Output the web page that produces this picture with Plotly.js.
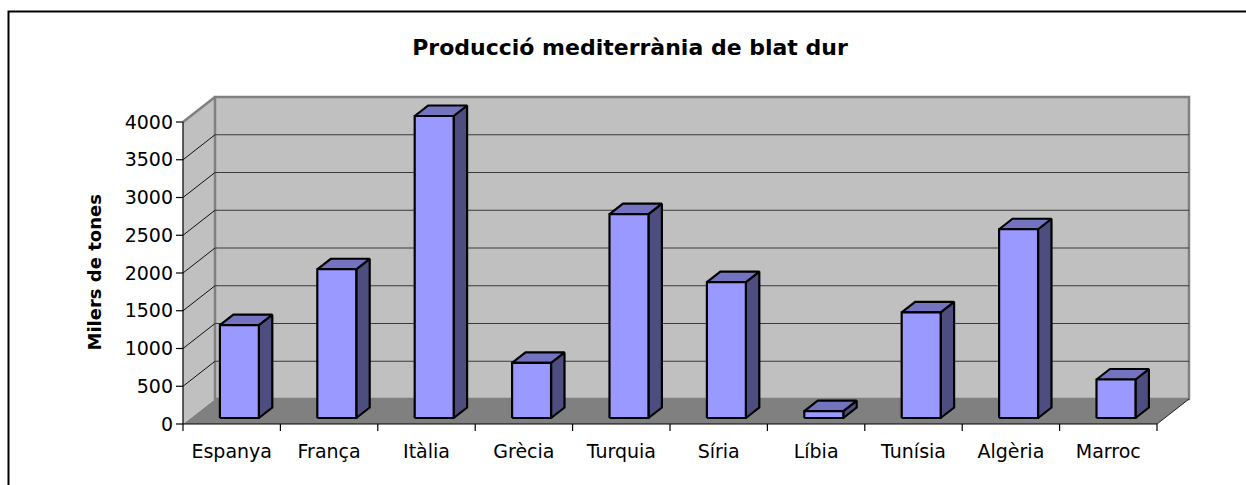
<!DOCTYPE html>
<html>
<head>
<meta charset="utf-8">
<script src="https://cdn.plot.ly/plotly-3.0.1.min.js"></script>
<style>
  html, body { margin: 0; padding: 0; background: #ffffff; }
  #chart { width: 1246px; height: 485px; }
</style>
</head>
<body>
<div id="chart"></div>
<script>
// ---- data ----
const categories = ["Espanya", "França", "Itàlia", "Grècia", "Turquia", "Síria", "Líbia", "Tunísia", "Algèria", "Marroc"];
const values = [1230, 1970, 4000, 730, 2700, 1800, 90, 1400, 2500, 510];
const yTickValues = [0, 500, 1000, 1500, 2000, 2500, 3000, 3500, 4000];
const yTickLabels = ["0", "500", "1000", "1500", "2000", "2500", "3000", "3500", "4000"];
const chartTitle = "Producció mediterrània de blat dur";
const yTitle = "Milers de tones";

// ---- geometry (pixels) ----
const W = 1246, H = 485;
const PX_CAT = 97.4;      // pixels per category
const PX_UNIT = 0.0755;   // pixels per value unit
const FRONT_X = 183, FRONT_Y = 424;
const PLOT = { l: 175, r: 1194, t: 94, b: 434 };
const DEPTH_PX = [32, 25];
const DX = DEPTH_PX[0] / PX_CAT, DY = DEPTH_PX[1] / PX_UNIT;
const BAR_HALF = 0.2, D0 = 0.24, D1 = 0.66;
const nCat = categories.length;
const yMax = yTickValues[yTickValues.length - 1];

const xRange = [-0.5 - (FRONT_X - PLOT.l) / PX_CAT, -0.5 + (PLOT.r - FRONT_X) / PX_CAT];
const yRange = [-(PLOT.b - FRONT_Y) / PX_UNIT, (FRONT_Y - PLOT.t) / PX_UNIT];

const xL = -0.5, xR = nCat - 0.5;

// ---- helpers ----
function polyTrace(list, fill, lineColor, lineWidth) {
  const xs = [], ys = [];
  list.forEach(pts => {
    pts.forEach(p => { xs.push(p[0]); ys.push(p[1]); });
    xs.push(pts[0][0]); ys.push(pts[0][1]);
    xs.push(null); ys.push(null);
  });
  return { type: 'scatter', mode: 'lines', x: xs, y: ys, fill: 'toself', fillcolor: fill,
           line: { color: lineColor, width: lineWidth }, hoverinfo: 'skip', showlegend: false };
}
function segTrace(segs, color, width) {
  const xs = [], ys = [];
  segs.forEach(s => { xs.push(s[0][0], s[1][0], null); ys.push(s[0][1], s[1][1], null); });
  return { type: 'scatter', mode: 'lines', x: xs, y: ys, line: { color: color, width: width },
           hoverinfo: 'skip', showlegend: false };
}

// ---- walls / grid ----
const gridVals = yTickValues.filter(v => v > 0 && v < yMax);
const backGrid = segTrace(gridVals.map(v => [[xL + DX, v + DY], [xR + DX, v + DY]]), '#3a3a3a', 1.2);
const sideGrid = segTrace(gridVals.map(v => [[xL, v], [xL + DX, v + DY]]), '#111111', 1);
const wallEdges = segTrace([
  [[xL, yMax], [xL + DX, yMax + DY]],
], '#808080', 2.5);
const floorEdge = segTrace([[[xR, 0], [xR + DX, DY]]], '#222222', 1);
const axisLines = segTrace([
  [[xL, 0], [xL, yMax]],
  [[xL, 0], [xR, 0]]
], '#000000', 1.2);
const yTickMarks = segTrace(yTickValues.map(v => [[xL - 7 / PX_CAT, v], [xL, v]]), '#000000', 1.2);
const bounds = [];
for (let i = 0; i <= nCat; i++) bounds.push(i - 0.5);
const xTickMarks = segTrace(bounds.map(b => [[b, 0], [b, -7 / PX_UNIT]]), '#000000', 1.2);

// ---- bars ----
const dd = D1 - D0;
const fronts = [], sides = [], tops = [];
values.forEach((v, i) => {
  const x0 = i - BAR_HALF + D0 * DX, x1 = i + BAR_HALF + D0 * DX;
  const y0 = D0 * DY, yt = y0 + v;
  const ox = dd * DX, oy = dd * DY;
  fronts.push([[x0, y0], [x1, y0], [x1, yt], [x0, yt]]);
  sides.push([[x1, y0], [x1 + ox, y0 + oy], [x1 + ox, yt + oy], [x1, yt]]);
  tops.push([[x0, yt], [x1, yt], [x1 + ox, yt + oy], [x0 + ox, yt + oy]]);
});

const traces = [
  backGrid, sideGrid, wallEdges, floorEdge,
  polyTrace(sides, '#4D4D80', '#000000', 2.2),
  polyTrace(tops, '#7373BF', '#000000', 2.2),
  polyTrace(fronts, '#9999FF', '#000000', 2.2),
  axisLines, yTickMarks, xTickMarks
];

// ---- shapes: walls and floor ----
function path(pts) { return 'M ' + pts.map(p => p[0] + ',' + p[1]).join(' L ') + ' Z'; }
const shapes = [
  { type: 'path', xref: 'x', yref: 'y', layer: 'below',
    path: path([[xL, 0], [xR, 0], [xR + DX, DY], [xL + DX, DY]]),
    fillcolor: '#808080', line: { width: 0 } },
  { type: 'path', xref: 'x', yref: 'y', layer: 'below',
    path: path([[xL, 0], [xL + DX, DY], [xL + DX, yMax + DY], [xL, yMax]]),
    fillcolor: '#C0C0C0', line: { width: 0 } },
  { type: 'rect', xref: 'x', yref: 'y', layer: 'below',
    x0: xL + DX, x1: xR + DX, y0: DY, y1: yMax + DY,
    fillcolor: '#C0C0C0', line: { color: '#808080', width: 2.5 } },
  // outer chart border
  { type: 'rect', xref: 'paper', yref: 'paper',
    x0: (8.5 - PLOT.l) / (PLOT.r - PLOT.l), x1: (W + 20 - PLOT.l) / (PLOT.r - PLOT.l),
    y0: (PLOT.b - (H + 20)) / (PLOT.b - PLOT.t), y1: (PLOT.b - 11.5) / (PLOT.b - PLOT.t),
    line: { color: '#000000', width: 2 }, fillcolor: 'rgba(0,0,0,0)' }
];

const font = 'DejaVu Sans, Arial, sans-serif';
const layout = {
  width: W, height: H,
  margin: { l: PLOT.l, r: W - PLOT.r, t: PLOT.t, b: H - PLOT.b, pad: 0 },
  paper_bgcolor: '#ffffff', plot_bgcolor: 'rgba(0,0,0,0)',
  showlegend: false,
  title: { text: '<b>' + chartTitle + '</b>', x: 630 / W, xref: 'container', xanchor: 'center',
           y: 1 - 47 / H, yref: 'container', yanchor: 'middle',
           font: { family: font, size: 22, color: '#000000' } },
  xaxis: { range: xRange, showgrid: false, zeroline: false, showline: false, ticks: '',
           tickmode: 'array', tickvals: categories.map((c, i) => i), ticktext: categories,
           tickfont: { family: font, size: 19, color: '#000000' }, ticklabelstandoff: 4,
           fixedrange: true },
  yaxis: { range: yRange, showgrid: false, zeroline: false, showline: false, ticks: '',
           tickmode: 'array', tickvals: yTickValues, ticktext: yTickLabels,
           tickfont: { family: font, size: 19, color: '#000000' }, ticklabelstandoff: 1,
           fixedrange: true },
  shapes: shapes,
  annotations: [
    { text: '<b>' + yTitle + '</b>', xref: 'paper', yref: 'paper', showarrow: false,
      x: (94 - PLOT.l) / (PLOT.r - PLOT.l), y: (PLOT.b - 272.5) / (PLOT.b - PLOT.t),
      xanchor: 'center', yanchor: 'middle', textangle: -90,
      font: { family: font, size: 18, color: '#000000' } }
  ]
};

Plotly.newPlot('chart', traces, layout, { staticPlot: true, displayModeBar: false });
</script>
</body>
</html>
